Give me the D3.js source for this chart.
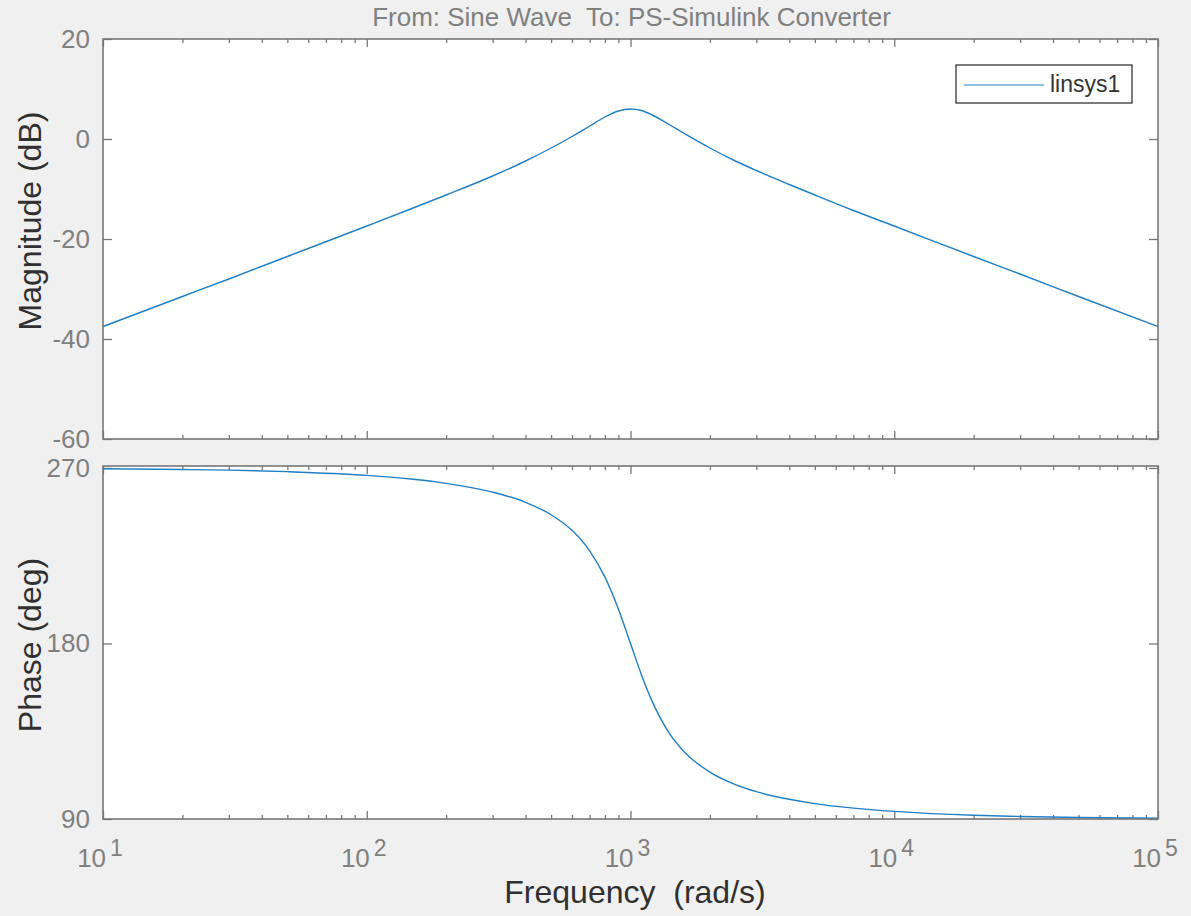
<!DOCTYPE html>
<html>
<head>
<meta charset="utf-8">
<script src="https://cdn.jsdelivr.net/npm/d3@7"></script>
<style>
  html, body { margin: 0; padding: 0; background: #f0f0f0; }
  svg { display: block; font-family: "Liberation Sans", Arial, sans-serif; }
</style>
</head>
<body>
<div id="chart"></div>
<script>
//////////////// DATA ////////////////

// Frequency points (rad/s)
var freq = [10, 20, 30, 50, 100, 150, 200, 300, 400, 500, 600, 700, 800, 900, 1000,
            1100, 1200, 1400, 1600, 2000, 2500, 3000, 4000, 5000, 7000, 10000,
            20000, 30000, 50000, 100000];

// Magnitude (dB)
var magnitudeDb = [-37.5, -31.5, -28.0, -23.5, -17.4, -13.8, -11.2, -7.4, -4.4, -1.8, 0.5, 2.6, 4.4, 5.6, 6.0,
                   5.7, 4.9, 2.9, 1.1, -1.8, -4.4, -6.3, -9.1, -11.2, -14.3, -17.4,
                   -23.5, -27.0, -31.5, -37.5];

// Phase (deg)
var phaseDeg = [269.6, 269.2, 268.9, 268.1, 266.2, 264.2, 262.1, 257.6, 252.4, 246.0, 238.0, 227.5, 214.0, 197.6, 180.0,
                164.0, 151.2, 134.2, 124.4, 114.0, 107.6, 104.0, 100.1, 97.9, 95.6, 93.9,
                91.9, 91.3, 90.8, 90.4];

// Tick values
var decadeTicks = [10, 100, 1000, 10000, 100000],
    decadeExponents = ["1", "2", "3", "4", "5"],
    magTicks = [-60, -40, -20, 0, 20],
    phaseTicks = [90, 180, 270];

var seriesName = "linsys1",
    titleText = "From: Sine Wave  To: PS-Simulink Converter";

//////////////// SETUP ////////////////

var w = 1191,
    h = 916,
    left = 103,
    right = 1158,
    magTop = 39,
    magBottom = 439,
    phTop = 466,
    phBottom = 819;

var axisColor = "#777777",
    tickTextColor = "#808080",
    labelColor = "#303030",
    lineColor = "#1f7fc6",
    fontSize = 26,
    labelSize = 32;

var svg = d3.select("#chart").append("svg")
    .attr("width", w)
    .attr("height", h);

svg.append("rect")
    .attr("width", w)
    .attr("height", h)
    .attr("fill", "#f0f0f0");

// Scales
var xScale = d3.scaleLog()
    .domain([10, 100000])
    .range([left, right]);

var yMag = d3.scaleLinear()
    .domain([-60, 20])
    .range([magBottom, magTop]);

var yPhase = d3.scaleLinear()
    .domain([90, 271])
    .range([phBottom, phTop]);

// minor ticks 2..9 of each decade
var minorTicks = [];
decadeTicks.slice(0, 4).forEach(function(d) {
    for (var k = 2; k <= 9; k++) minorTicks.push(d * k);
});

//////////////// PANELS ////////////////

var drawPanel = function(yScale, top, bottom, yTicks, values) {

    // white plot area
    svg.append("rect")
        .attr("x", left)
        .attr("y", top)
        .attr("width", right - left)
        .attr("height", bottom - top)
        .attr("fill", "white");

    // x ticks, bottom and top, pointing in
    var axes = [
        {axis: d3.axisBottom(xScale), y: bottom},
        {axis: d3.axisTop(xScale), y: top}
    ];
    axes.forEach(function(a) {
        var gMaj = svg.append("g")
            .attr("transform", "translate(0," + a.y + ")")
            .call(a.axis.tickValues(decadeTicks).tickSize(-8).tickFormat(""));
        gMaj.select(".domain").remove();
        gMaj.selectAll("line").attr("stroke", axisColor).attr("stroke-width", 1.3);

        var gMin = svg.append("g")
            .attr("transform", "translate(0," + a.y + ")")
            .call(a.axis.tickValues(minorTicks).tickSize(-4).tickFormat(""));
        gMin.select(".domain").remove();
        gMin.selectAll("line").attr("stroke", axisColor).attr("stroke-width", 1.3);
    });

    // y ticks, left and right
    var gLeft = svg.append("g")
        .attr("transform", "translate(" + left + ",0)")
        .call(d3.axisLeft(yScale).tickValues(yTicks).tickSize(-9).tickFormat(""));
    gLeft.select(".domain").remove();
    gLeft.selectAll("line").attr("stroke", axisColor).attr("stroke-width", 1.3);

    var gRight = svg.append("g")
        .attr("transform", "translate(" + right + ",0)")
        .call(d3.axisRight(yScale).tickValues(yTicks).tickSize(-9).tickFormat(""));
    gRight.select(".domain").remove();
    gRight.selectAll("line").attr("stroke", axisColor).attr("stroke-width", 1.3);

    // y tick labels
    svg.selectAll(null)
        .data(yTicks)
        .enter()
        .append("text")
        .attr("x", left - 13)
        .attr("y", function(d) { return yScale(d) + 2; })
        .attr("text-anchor", "end")
        .attr("dominant-baseline", "middle")
        .attr("font-size", fontSize)
        .attr("fill", tickTextColor)
        .text(function(d) { return d; });

    // curve
    var line = d3.line()
        .x(function(d, i) { return xScale(freq[i]); })
        .y(function(d) { return yScale(d); })
        .curve(d3.curveMonotoneX);

    svg.append("path")
        .datum(values)
        .attr("d", line)
        .attr("fill", "none")
        .attr("stroke", lineColor)
        .attr("stroke-width", 1.4);

    // box
    svg.append("rect")
        .attr("x", left)
        .attr("y", top)
        .attr("width", right - left)
        .attr("height", bottom - top)
        .attr("fill", "none")
        .attr("stroke", axisColor)
        .attr("stroke-width", 1.6);
};

drawPanel(yMag, magTop, magBottom, magTicks, magnitudeDb);
drawPanel(yPhase, phTop, phBottom, phaseTicks, phaseDeg);

//////////////// LABELS ////////////////

// x tick labels 10^n
var xLabels = svg.selectAll(null)
    .data(decadeTicks)
    .enter()
    .append("text")
    .attr("x", function(d) { return xScale(d) - 3; })
    .attr("y", 867)
    .attr("text-anchor", "middle")
    .attr("font-size", fontSize)
    .attr("fill", tickTextColor);
xLabels.append("tspan").text("10");
xLabels.append("tspan")
    .attr("dx", 4)
    .attr("dy", -11)
    .attr("font-size", fontSize - 3)
    .text(function(d, i) { return decadeExponents[i]; });

// title
svg.append("text")
    .attr("x", (left + right) / 2 + 1)
    .attr("y", 26)
    .attr("text-anchor", "middle")
    .attr("font-size", 26)
    .attr("fill", tickTextColor)
    .attr("xml:space", "preserve")
    .text(titleText);

// axis labels
svg.append("text")
    .attr("x", 635)
    .attr("y", 903)
    .attr("text-anchor", "middle")
    .attr("font-size", labelSize)
    .attr("fill", labelColor)
    .attr("xml:space", "preserve")
    .text("Frequency  (rad/s)");

svg.append("text")
    .attr("transform", "translate(41,221) rotate(-90)")
    .attr("text-anchor", "middle")
    .attr("font-size", labelSize)
    .attr("fill", labelColor)
    .text("Magnitude (dB)");

svg.append("text")
    .attr("transform", "translate(41,645) rotate(-90)")
    .attr("text-anchor", "middle")
    .attr("font-size", labelSize)
    .attr("fill", labelColor)
    .text("Phase (deg)");

//////////////// LEGEND ////////////////

var legend = svg.append("g");
legend.append("rect")
    .attr("x", 956)
    .attr("y", 65)
    .attr("width", 176)
    .attr("height", 38)
    .attr("fill", "white")
    .attr("stroke", "#262626")
    .attr("stroke-width", 1.2);
legend.append("line")
    .attr("x1", 964)
    .attr("x2", 1044)
    .attr("y1", 85)
    .attr("y2", 85)
    .attr("stroke", lineColor)
    .attr("stroke-width", 1.2);
legend.append("text")
    .attr("x", 1050)
    .attr("y", 86)
    .attr("dominant-baseline", "middle")
    .attr("font-size", 23)
    .attr("fill", "#333333")
    .text(seriesName);
</script>
</body>
</html>
